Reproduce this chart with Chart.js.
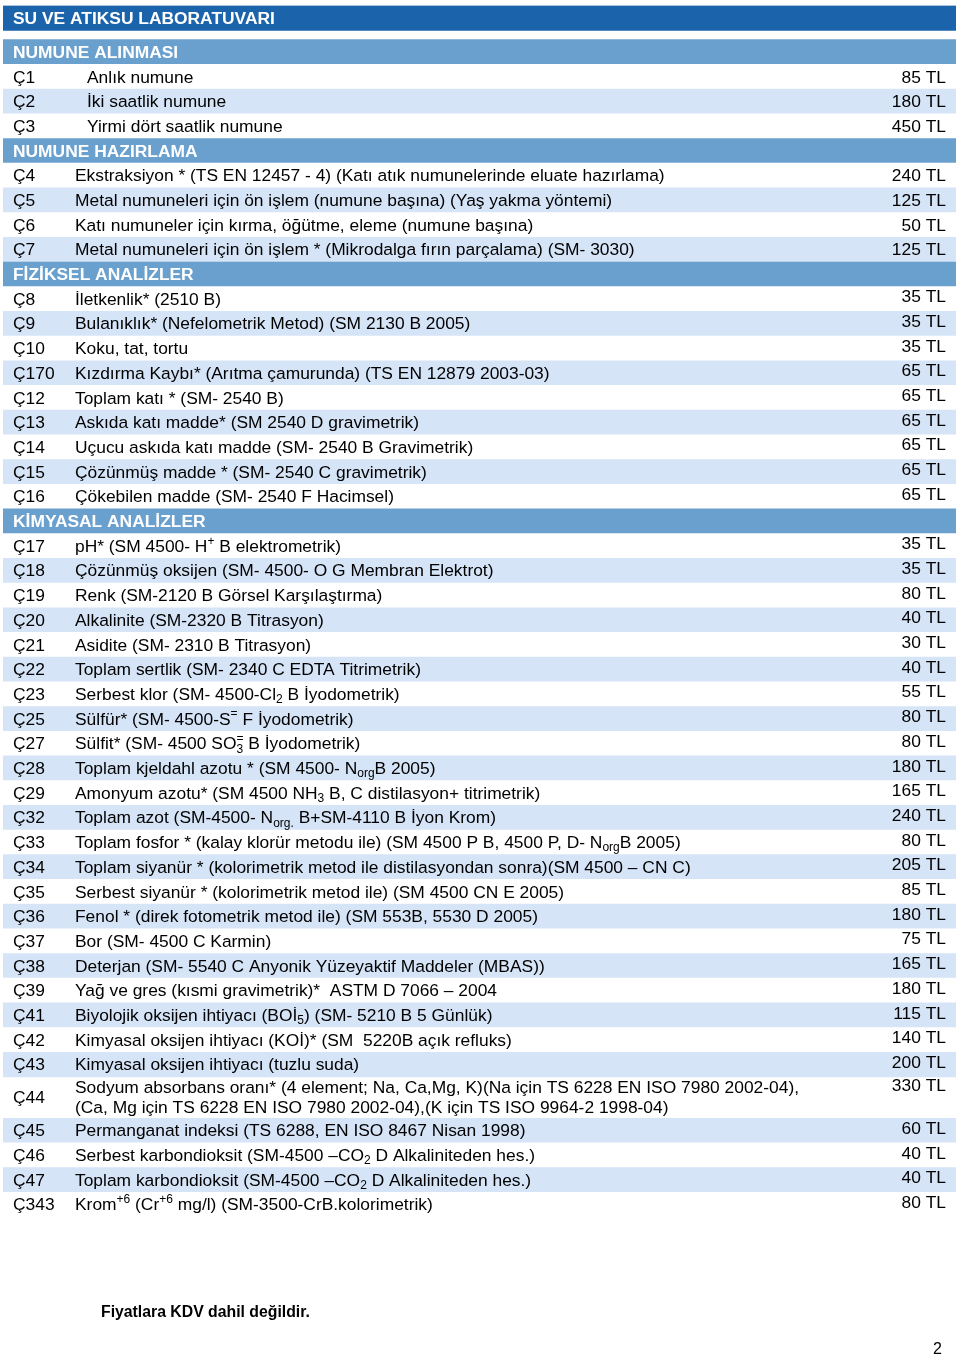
<!DOCTYPE html>
<html>
<head>
    <meta charset="UTF-8">
    <title>Su ve Atıksu Laboratuvarı</title>
    <script src="https://cdn.jsdelivr.net/npm/chart.js@4"></script>
    <style>
        body { margin: 0; background: #fff; font-family: "Liberation Sans", Arial, sans-serif; }
        #page { position: relative; width: 960px; height: 1359px; }
        #note { position: absolute; left: 101px; top: 1303px; font-size: 15.8px; font-weight: bold; }
        #pageNo { position: absolute; left: 933px; top: 1340px; font-size: 16px; }
    </style>
</head>
<body>
    <div id="page">
        <canvas id="priceChart"></canvas>
        <div id="note">Fiyatlara KDV dahil değildir.</div>
        <div id="pageNo">2</div>
    </div>

    <script>
        // title + section headers
        var pageTitle = 'SU VE ATIKSU LABORATUVARI';
        var sectionNames = ['NUMUNE ALINMASI', 'NUMUNE HAZIRLAMA', 'FİZİKSEL ANALİZLER', 'KİMYASAL ANALİZLER'];
        var sectionSizes = [3, 4, 9, 27];

        // _{..} = subscript, ^{..} = superscript, \n = second line
        var codes = ['Ç1', 'Ç2', 'Ç3',
            'Ç4', 'Ç5', 'Ç6', 'Ç7',
            'Ç8', 'Ç9', 'Ç10', 'Ç170', 'Ç12', 'Ç13', 'Ç14', 'Ç15', 'Ç16',
            'Ç17', 'Ç18', 'Ç19', 'Ç20', 'Ç21', 'Ç22', 'Ç23', 'Ç25', 'Ç27', 'Ç28', 'Ç29', 'Ç32', 'Ç33',
            'Ç34', 'Ç35', 'Ç36', 'Ç37', 'Ç38', 'Ç39', 'Ç41', 'Ç42', 'Ç43', 'Ç44', 'Ç45', 'Ç46', 'Ç47', 'Ç343'];
        var descriptions = [
            'Anlık numune',
            'İki saatlik numune',
            'Yirmi dört saatlik numune',
            'Ekstraksiyon * (TS EN 12457 - 4) (Katı atık numunelerinde eluate hazırlama)',
            'Metal numuneleri için ön işlem (numune başına) (Yaş yakma yöntemi)',
            'Katı numuneler için kırma, öğütme, eleme (numune başına)',
            'Metal numuneleri için ön işlem * (Mikrodalga fırın parçalama) (SM- 3030)',
            'İletkenlik* (2510 B)',
            'Bulanıklık* (Nefelometrik Metod) (SM 2130 B 2005)',
            'Koku, tat, tortu',
            'Kızdırma Kaybı* (Arıtma çamurunda) (TS EN 12879 2003-03)',
            'Toplam katı * (SM- 2540 B)',
            'Askıda katı madde* (SM 2540 D gravimetrik)',
            'Uçucu askıda katı madde (SM- 2540 B Gravimetrik)',
            'Çözünmüş madde * (SM- 2540 C gravimetrik)',
            'Çökebilen madde (SM- 2540 F Hacimsel)',
            'pH* (SM 4500- H^{+} B elektrometrik)',
            'Çözünmüş oksijen (SM- 4500- O G Membran Elektrot)',
            'Renk (SM-2120 B Görsel Karşılaştırma)',
            'Alkalinite (SM-2320 B Titrasyon)',
            'Asidite (SM- 2310 B Titrasyon)',
            'Toplam sertlik (SM- 2340 C EDTA Titrimetrik)',
            'Serbest klor (SM- 4500-Cl_{2} B İyodometrik)',
            'Sülfür* (SM- 4500-S^{=} F İyodometrik)',
            'Sülfit* (SM- 4500 SO_{3}^{=} B İyodometrik)',
            'Toplam kjeldahl azotu * (SM 4500- N_{org}B 2005)',
            'Amonyum azotu* (SM 4500 NH_{3} B, C distilasyon+ titrimetrik)',
            'Toplam azot (SM-4500- N_{org.} B+SM-4110 B İyon Krom)',
            'Toplam fosfor * (kalay klorür metodu ile) (SM 4500 P B, 4500 P, D- N_{org}B 2005)',
            'Toplam siyanür * (kolorimetrik metod ile distilasyondan sonra)(SM 4500 – CN C)',
            'Serbest siyanür * (kolorimetrik metod ile) (SM 4500 CN E 2005)',
            'Fenol * (direk fotometrik metod ile) (SM 553B, 5530 D 2005)',
            'Bor (SM- 4500 C Karmin)',
            'Deterjan (SM- 5540 C Anyonik Yüzeyaktif Maddeler (MBAS))',
            'Yağ ve gres (kısmi gravimetrik)*  ASTM D 7066 – 2004',
            'Biyolojik oksijen ihtiyacı (BOİ_{5}) (SM- 5210 B 5 Günlük)',
            'Kimyasal oksijen ihtiyacı (KOİ)* (SM  5220B açık refluks)',
            'Kimyasal oksijen ihtiyacı (tuzlu suda)',
            'Sodyum absorbans oranı* (4 element; Na, Ca,Mg, K)(Na için TS 6228 EN ISO 7980 2002-04),\n(Ca, Mg için TS 6228 EN ISO 7980 2002-04),(K için TS ISO 9964-2 1998-04)',
            'Permanganat indeksi (TS 6288, EN ISO 8467 Nisan 1998)',
            'Serbest karbondioksit (SM-4500 –CO_{2} D Alkaliniteden hes.)',
            'Toplam karbondioksit (SM-4500 –CO_{2} D Alkaliniteden hes.)',
            'Krom^{+6} (Cr^{+6} mg/l) (SM-3500-CrB.kolorimetrik)'
        ];
        var prices = [85, 180, 450,
            240, 125, 50, 125,
            35, 35, 35, 65, 65, 65, 65, 65, 65,
            35, 35, 80, 40, 30, 40, 55, 80, 80, 180, 165, 240, 80,
            205, 85, 180, 75, 165, 180, 115, 140, 200, 330, 60, 40, 40, 80];

        var TITLE_BLUE = '#1b64ab';
        var HEAD_BLUE = '#6aa0ce';
        var STRIPE = '#d6e4f7';
        var TITLE_GAP = 0.38;     // white gap under the title bar, in rows
        var TWO_LINE_ROW = 1.67;  // height of a two-line row, in rows
        var FONT_SIZE = 17.4;

        // build the rows (kind, text, centre position on the y scale)
        var rows = [];
        var pos = 0;
        function addRow(row, h) {
            row.y = pos + h / 2;
            row.h = h;
            rows.push(row);
            pos += h;
        }
        addRow({ kind: 'title', text: pageTitle, color: TITLE_BLUE }, 1);
        pos += TITLE_GAP;
        var k = 0;
        sectionNames.forEach(function (name, s) {
            addRow({ kind: 'head', text: name, color: HEAD_BLUE }, 1);
            for (var i = 0; i < sectionSizes[s]; i++, k++) {
                var lines = descriptions[k].split('\n');
                addRow({
                    kind: 'item', section: s, code: codes[k], lines: lines,
                    price: prices[k] + ' TL', color: i % 2 === 1 ? STRIPE : '#ffffff'
                }, lines.length > 1 ? TWO_LINE_ROW : 1);
            }
        });
        var totalRows = pos;

        var FONT = '"Liberation Sans", Arial, sans-serif';

        function drawRich(ctx, str, x, y, size) {
            var parts = str.split(/(_\{[^}]*\}|\^\{[^}]*\})/);
            var cx = x, subStart = null;
            parts.forEach(function (p) {
                if (p === '') return;
                if (p.indexOf('_{') === 0) {
                    var t = p.slice(2, -1);
                    ctx.font = Math.round(size * 0.68) + 'px ' + FONT;
                    ctx.fillText(t, cx, y + size * 0.27);
                    subStart = cx;
                    cx += ctx.measureText(t).width;
                } else if (p.indexOf('^{') === 0) {
                    var t2 = p.slice(2, -1);
                    ctx.font = Math.round(size * 0.68) + 'px ' + FONT;
                    var sx = subStart !== null ? subStart : cx;
                    ctx.fillText(t2, sx, y - size * 0.33);
                    cx = Math.max(cx, sx + ctx.measureText(t2).width);
                    subStart = null;
                } else {
                    ctx.font = size + 'px ' + FONT;
                    ctx.fillText(p, cx, y);
                    cx += ctx.measureText(p).width;
                    subStart = null;
                }
            });
        }

        var tableText = {
            id: 'tableText',
            afterDatasetsDraw: function (chart) {
                var ctx = chart.ctx;
                var ys = chart.scales.y;
                var area = chart.chartArea;
                var rowPx = Math.abs(ys.getPixelForValue(1) - ys.getPixelForValue(0));
                ctx.save();
                ctx.textBaseline = 'middle';
                rows.forEach(function (r) {
                    var cy = ys.getPixelForValue(r.y);
                    if (r.kind !== 'item') {
                        ctx.fillStyle = '#ffffff';
                        ctx.textAlign = 'left';
                        ctx.font = 'bold ' + FONT_SIZE + 'px ' + FONT;
                        ctx.fillText(r.text, area.left + 10, cy + 1);
                        return;
                    }
                    ctx.fillStyle = '#000000';
                    ctx.textAlign = 'left';
                    ctx.font = FONT_SIZE + 'px ' + FONT;
                    ctx.fillText(r.code, area.left + 10, cy + 1);
                    var descX = area.left + (r.section === 0 ? 84 : 72);
                    var lineGap = rowPx * 0.81;
                    var firstY = cy - (r.lines.length - 1) * lineGap / 2;
                    r.lines.forEach(function (ln, j) {
                        drawRich(ctx, ln, descX, firstY + j * lineGap + 1, FONT_SIZE);
                    });
                    ctx.textAlign = 'right';
                    ctx.font = FONT_SIZE + 'px ' + FONT;
                    var py = r.lines.length > 1 ? firstY : cy;
                    if (r.section >= 2) py -= 2.5;
                    ctx.fillText(r.price, area.right - 10, py + 1);
                });
                ctx.restore();
            }
        };

        var chartElement = document.getElementById('priceChart').getContext('2d');
        var priceChart = new Chart(chartElement, {
            type: 'bar',
            data: {
                datasets: [{
                    data: rows.map(function (r) { return { x: [0, 1], y: r.y }; }),
                    backgroundColor: rows.map(function (r) { return r.color; }),
                    borderWidth: 0,
                    barPercentage: 1,
                    categoryPercentage: 1
                }]
            },
            options: {
                indexAxis: 'y',
                responsive: true,
                maintainAspectRatio: false,
                animation: false,
                layout: { padding: { left: 3, right: 4, top: 5.6, bottom: 142 } },
                plugins: { legend: { display: false }, tooltip: { enabled: false } },
                scales: {
                    x: { type: 'linear', min: 0, max: 1, display: false },
                    y: { type: 'linear', reverse: true, offset: false, min: 0, max: totalRows, display: false, ticks: { stepSize: 1 } }
                }
            },
            plugins: [tableText]
        });
    </script>
</body>
</html>
